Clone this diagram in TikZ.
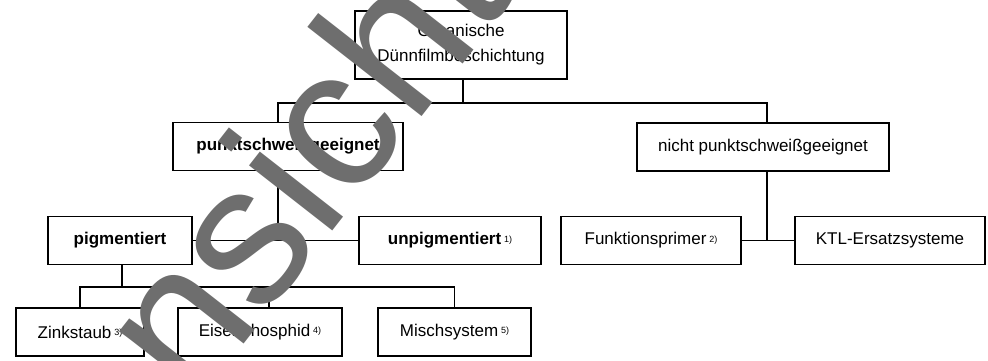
\documentclass[tikz,border=0pt]{standalone}
\usepackage{fontspec}
\setmainfont{Liberation Sans}
\usetikzlibrary{positioning}
\newcommand{\definitions}{%
  % colour of the boxes and lines
  \colorlet{colLine}{black}
  % colour of the watermark
  \colorlet{colMark}{black!57}

  % junction of the first level
  \coordinate (jTop) at (463, 103);
  % junction below punktschweissgeeignet
  \coordinate (jLeft) at (278, 240.5);
  % junction below nicht punktschweissgeeignet
  \coordinate (jRight) at (767, 240.5);
  % junction below pigmentiert
  \coordinate (jPig) at (122, 287);
}
\tikzset{
  box/.style={draw=colLine, line width=1.6pt, inner sep=0pt, align=center,
    minimum height=48pt, font=\fontsize{17}{25}\selectfont},
  boldbox/.style={box, font=\fontsize{17}{25}\selectfont\bfseries},
  link/.style={draw=colLine, line width=1.6pt},
  watermark/.style={text=colMark, inner sep=0pt,
    font=\fontsize{200}{200}\selectfont}
}
\newcommand{\fn}[1]{\,{\fontsize{9}{9}\selectfont\raisebox{0.55ex}{#1}}}

\begin{document}
\begin{tikzpicture}[x=1pt, y=-1pt]
  \useasboundingbox (0, 0) rectangle (988, 360);

  % define colours and junctions
  \definitions

  % top of the tree
  \node[box, minimum width=212pt, minimum height=68pt] (top) at (461, 45)
    {Organische\\Dünnfilmbeschichtung};

  % second level
  \node[boldbox, minimum width=230pt] (punkt) at (288, 146.5) {punktschweißgeeignet};
  \node[box, minimum width=252pt] (nicht) at (763, 147) {nicht punktschweißgeeignet};

  % third level
  \node[boldbox, minimum width=144pt] (pig) at (120, 240.5) {pigmentiert};
  \node[boldbox, minimum width=182pt] (unpig) at (450, 240.5)
    {unpigmentiert\fn{\mdseries 1)}};
  \node[box, minimum width=180pt] (funk) at (651, 240.5) {Funktionsprimer\fn{2)}};
  \node[box, minimum width=190pt] (ktl) at (890, 240.5) {KTL-Ersatzsysteme};

  % fourth level
  \node[box, minimum width=128pt] (zink) at (80, 332) {Zinkstaub\fn{3)}};
  \node[box, minimum width=164pt] (eisen) at (260, 332) {Eisenphosphid\fn{4)}};
  \node[box, minimum width=153pt] (misch) at (454.5, 332) {Mischsystem\fn{5)}};

  % connect the levels
  \draw[link] (top.south -| jTop) -- (jTop);
  \draw[link] (jLeft |- punkt.north) |- (jTop) -| (jRight |- nicht.north);
  \draw[link] (jLeft |- punkt.south) -- (jLeft);
  \draw[link] (pig.east) -- (unpig.west);
  \draw[link] (jRight |- nicht.south) -- (jRight);
  \draw[link] (funk.east) -- (ktl.west);
  \draw[link] (jPig |- pig.south) -- (jPig);
  \draw[link] (zink.north) |- (jPig) -| (misch.north);
  \draw[link] ([xshift=9pt]eisen.north) -- ([xshift=9pt]eisen.north |- jPig);

  % watermark over everything
  \begin{scope}
    \clip (0, 0) rectangle (988, 360);
    \node[watermark, rotate=52, anchor=base west] (mark) at (112, 513) {Ansicht};
  \end{scope}

\end{tikzpicture}
\end{document}
